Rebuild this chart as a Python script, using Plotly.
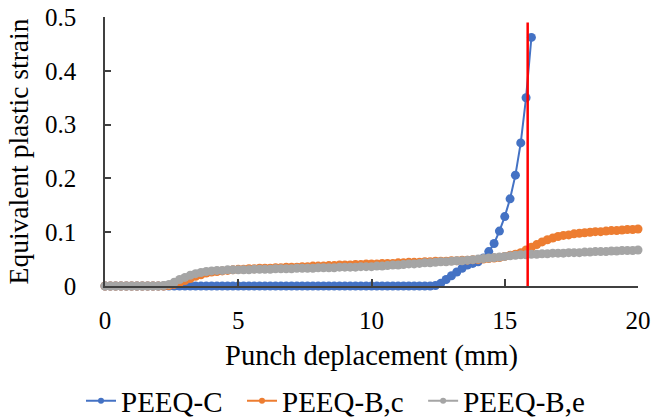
import plotly.graph_objects as go

# Punch displacement grid (mm), 0.2 mm step
disp = [0.0, 0.2, 0.4, 0.6, 0.8, 1.0, 1.2, 1.4, 1.6, 1.8,
        2.0, 2.2, 2.4, 2.6, 2.8, 3.0, 3.2, 3.4, 3.6, 3.8,
        4.0, 4.2, 4.4, 4.6, 4.8, 5.0, 5.2, 5.4, 5.6, 5.8,
        6.0, 6.2, 6.4, 6.6, 6.8, 7.0, 7.2, 7.4, 7.6, 7.8,
        8.0, 8.2, 8.4, 8.6, 8.8, 9.0, 9.2, 9.4, 9.6, 9.8,
        10.0, 10.2, 10.4, 10.6, 10.8, 11.0, 11.2, 11.4, 11.6, 11.8,
        12.0, 12.2, 12.4, 12.6, 12.8, 13.0, 13.2, 13.4, 13.6, 13.8,
        14.0, 14.2, 14.4, 14.6, 14.8, 15.0, 15.2, 15.4, 15.6, 15.8,
        16.0, 16.2, 16.4, 16.6, 16.8, 17.0, 17.2, 17.4, 17.6, 17.8,
        18.0, 18.2, 18.4, 18.6, 18.8, 19.0, 19.2, 19.4, 19.6, 19.8,
        20.0]

# PEEQ-C stops at 16 mm (first 81 grid points)
peeq_c = [0.0, 0.0, 0.0, 0.0, 0.0, 0.0, 0.0, 0.0, 0.0, 0.0,
          0.0, 0.0, 0.0, 0.0, 0.0, 0.0, 0.0, 0.0, 0.0, 0.0,
          0.0, 0.0, 0.0, 0.0, 0.0, 0.0, 0.0, 0.0, 0.0, 0.0,
          0.0, 0.0, 0.0, 0.0, 0.0, 0.0, 0.0, 0.0, 0.0, 0.0,
          0.0, 0.0, 0.0, 0.0, 0.0, 0.0, 0.0, 0.0, 0.0, 0.0,
          0.0, 0.0, 0.0, 0.0, 0.0, 0.0, 0.0, 0.0, 0.0, 0.0,
          0.0, 0.0, 0.001, 0.005, 0.012, 0.019, 0.026, 0.033, 0.039, 0.042,
          0.045, 0.052, 0.064, 0.079, 0.102, 0.129, 0.162, 0.206, 0.266, 0.350,
          0.462]

peeq_bc = [0.0, 0.0, 0.0, 0.0, 0.0, 0.0, 0.0, 0.0, 0.0, 0.0,
           0.0, 0.0, 0.001, 0.003, 0.006, 0.010, 0.014, 0.018, 0.021, 0.024,
           0.026, 0.027, 0.028, 0.029, 0.030, 0.031, 0.031, 0.032, 0.032, 0.033,
           0.033, 0.033, 0.034, 0.034, 0.035, 0.035, 0.035, 0.036, 0.036, 0.037,
           0.037, 0.037, 0.038, 0.038, 0.039, 0.039, 0.039, 0.040, 0.040, 0.041,
           0.041, 0.041, 0.042, 0.042, 0.042, 0.043, 0.043, 0.044, 0.044, 0.044,
           0.045, 0.045, 0.046, 0.046, 0.046, 0.047, 0.047, 0.048, 0.048, 0.049,
           0.049, 0.050, 0.051, 0.052, 0.053, 0.055, 0.057, 0.059, 0.062, 0.067,
           0.072, 0.077, 0.082, 0.086, 0.089, 0.092, 0.094, 0.095, 0.097, 0.098,
           0.099, 0.100, 0.101, 0.101, 0.102, 0.103, 0.103, 0.104, 0.105, 0.105,
           0.106]

peeq_be = [0.0, 0.0, 0.0, 0.0, 0.0, 0.0, 0.0, 0.0, 0.0, 0.0,
           0.0, 0.001, 0.003, 0.007, 0.012, 0.016, 0.020, 0.023, 0.025, 0.027,
           0.028, 0.029, 0.029, 0.030, 0.030, 0.030, 0.030, 0.030, 0.031, 0.031,
           0.031, 0.031, 0.032, 0.032, 0.032, 0.032, 0.033, 0.033, 0.033, 0.033,
           0.034, 0.034, 0.034, 0.034, 0.035, 0.035, 0.035, 0.035, 0.036, 0.036,
           0.036, 0.037, 0.037, 0.038, 0.039, 0.039, 0.040, 0.041, 0.041, 0.042,
           0.043, 0.043, 0.044, 0.045, 0.045, 0.046, 0.047, 0.047, 0.048, 0.049,
           0.050, 0.051, 0.052, 0.053, 0.054, 0.055, 0.056, 0.057, 0.058, 0.058,
           0.059, 0.059, 0.060, 0.060, 0.061, 0.061, 0.061, 0.062, 0.062, 0.062,
           0.063, 0.063, 0.064, 0.064, 0.064, 0.065, 0.065, 0.066, 0.066, 0.066,
           0.067]

# Vertical reference line at the failure displacement
fail_x = [15.86, 15.86]
fail_y = [0.0, 0.49]

x_ticks = [0, 5, 10, 15, 20]
y_ticks = [0, 0.1, 0.2, 0.3, 0.4, 0.5]
y_tick_text = ["0", "0.1", "0.2", "0.3", "0.4", "0.5"]

FONT = "Liberation Serif, Times New Roman, serif"
AXIS_COLOR = "#404040"
PAD = "\u00a0\u00a0"  # extra room after each legend label

series = [
    ("PEEQ-C", disp[:len(peeq_c)], peeq_c, "#4472C4"),
    ("PEEQ-B,c", disp, peeq_bc, "#ED7D31"),
    ("PEEQ-B,e", disp, peeq_be, "#A5A5A5"),
]

fig = go.Figure()

# Legend entries use a smaller marker than the plotted series
for name, _, _, color in series:
    fig.add_trace(go.Scatter(
        x=[None], y=[None], name=name + PAD, mode="lines+markers",
        line=dict(color=color, width=2),
        marker=dict(color=color, size=6),
    ))

for name, xs, ys, color in series:
    fig.add_trace(go.Scatter(
        x=xs, y=ys, name=name, mode="lines+markers", showlegend=False,
        line=dict(color=color, width=2),
        marker=dict(color=color, size=9),
        cliponaxis=False,
    ))

fig.add_trace(go.Scatter(
    x=fail_x, y=fail_y, mode="lines", showlegend=False,
    line=dict(color="#FF0000", width=2.5), hoverinfo="skip",
))

fig.update_layout(
    width=654, height=418,
    margin=dict(l=105, r=16, t=17, b=132),
    paper_bgcolor="white", plot_bgcolor="white",
    font=dict(family=FONT, color="black", size=25),
    legend=dict(
        orientation="h", xref="container", yref="container",
        x=81 / 654, xanchor="left", y=1 - 401 / 418, yanchor="middle",
        font=dict(size=29, family=FONT), itemwidth=30,
        bgcolor="rgba(0,0,0,0)",
    ),
)

fig.update_xaxes(
    range=[0, 20], tickvals=x_ticks, ticktext=[str(v) for v in x_ticks],
    showgrid=False, zeroline=False, automargin=False,
    showline=True, linecolor=AXIS_COLOR, linewidth=1.5,
    ticks="inside", ticklen=7, tickcolor=AXIS_COLOR, tickwidth=1.5,
    ticklabelstandoff=11,
    tickfont=dict(size=25, family=FONT),
    title=dict(text="Punch deplacement (mm)", font=dict(size=28.5, family=FONT), standoff=12),
)
fig.update_yaxes(
    range=[0, 0.5], tickvals=y_ticks, ticktext=y_tick_text,
    showgrid=False, zeroline=False, automargin=False,
    showline=True, linecolor=AXIS_COLOR, linewidth=1.5,
    ticks="inside", ticklen=6, tickcolor=AXIS_COLOR, tickwidth=1.5,
    ticklabelstandoff=22,
    tickfont=dict(size=25, family=FONT),
    title=dict(text="Equivalent plastic strain", font=dict(size=27.5, family=FONT), standoff=8),
)

fig.write_html("out.html")
